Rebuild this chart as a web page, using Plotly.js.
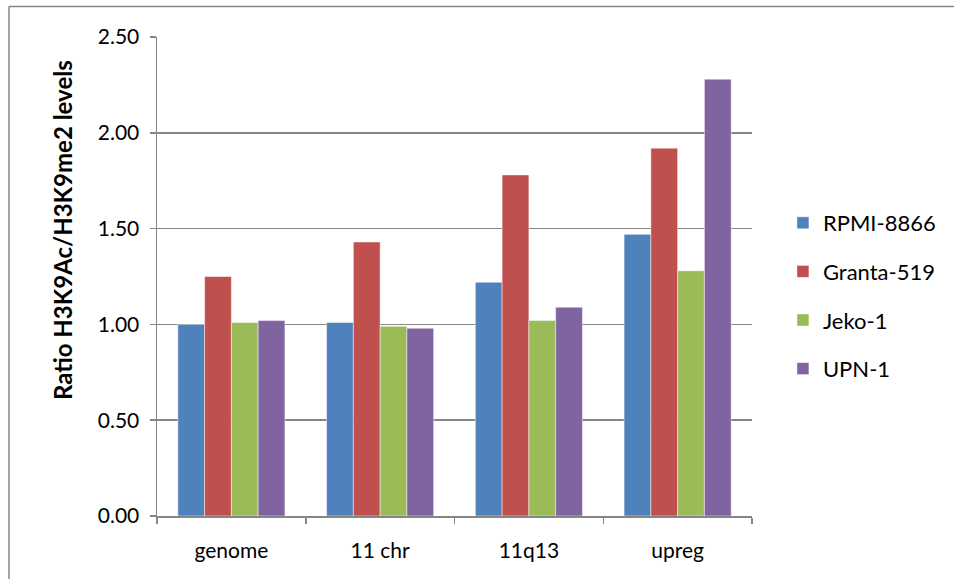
<!DOCTYPE html>
<html>
<head>
<meta charset="utf-8">
<script src="https://cdn.plot.ly/plotly-3.0.1.min.js"></script>
<style>html,body{margin:0;padding:0;background:#fff;}#chart{width:954px;height:579px;}</style>
</head>
<body>
<div id="chart"></div>
<script>
const categories = ["genome", "11 chr", "11q13", "upreg"];
const seriesNames = ["RPMI-8866", "Granta-519", "Jeko-1", "UPN-1"];
const rpmi = [1.00, 1.01, 1.22, 1.47];
const granta = [1.25, 1.43, 1.78, 1.92];
const jeko = [1.01, 0.99, 1.02, 1.28];
const upn = [1.02, 0.98, 1.09, 2.28];
const yTicks = [0, 0.5, 1.0, 1.5, 2.0, 2.5];
const yTickLabels = ["0.00", "0.50", "1.00", "1.50", "2.00", "2.50"];
const colors = ["#4F81BD", "#C0504D", "#9BBB59", "#8064A2"];

const values = [rpmi, granta, jeko, upn];
const font = "Lato, 'Open Sans', 'Liberation Sans', sans-serif";

const traces = values.map((v, i) => ({
  type: "bar",
  name: seriesNames[i],
  x: categories,
  y: v,
  legendgroup: "g" + i,
  marker: {color: colors[i], line: {color: "rgba(255,255,255,0.6)", width: 0.8}},
  hoverinfo: "x+y+name"
}));

const layout = {
  width: 954, height: 579,
  margin: {l: 157, r: 202, t: 37, b: 63},
  paper_bgcolor: "#ffffff",
  plot_bgcolor: "#ffffff",
  barmode: "group",
  bargap: 0.28,
  bargroupgap: 0,
  font: {family: font, color: "#000000", size: 21},
  xaxis: {
    type: "category",
    showline: true, linecolor: "#868686", linewidth: 1.5,
    ticks: "outside", ticklen: 6, tickcolor: "#868686", tickwidth: 1.5,
    tickson: "boundaries",
    showgrid: false,
    tickfont: {size: 21, family: font},
    ticklabelstandoff: 15,
    automargin: false
  },
  yaxis: {
    range: [0, 2.5],
    tickvals: yTicks,
    ticktext: yTickLabels,
    showline: true, linecolor: "#868686", linewidth: 1.5,
    ticks: "outside", ticklen: 6, tickcolor: "#868686", tickwidth: 1.5,
    showgrid: true, gridcolor: "#868686", gridwidth: 1.5,
    zeroline: false,
    tickfont: {size: 21, family: font},
    ticklabelstandoff: 6,
    automargin: false
  },
  annotations: [{
    text: "<b>Ratio H3K9Ac/H3K9me2 levels</b>",
    textangle: -90,
    xref: "paper", yref: "paper",
    x: (62 - 157) / 595, y: (516 - 230) / 479,
    xanchor: "center", yanchor: "middle",
    showarrow: false,
    font: {size: 24, family: font, color: "#000000"}
  }],
  legend: {
    x: 1.052, xanchor: "left",
    y: (516 - 296) / 479, yanchor: "middle",
    font: {size: 22, family: font},
    tracegroupgap: 17,
    itemwidth: 30,
    bgcolor: "rgba(0,0,0,0)"
  },
  shapes: [
    {type: "line", xref: "paper", yref: "paper", x0: (9-157)/595, x1: (960-157)/595, y0: (516-6.5)/479, y1: (516-6.5)/479, line: {color: "#868686", width: 1.5}},
    {type: "line", xref: "paper", yref: "paper", x0: (9-157)/595, x1: (9-157)/595, y0: (516-6.5)/479, y1: (516-590)/479, line: {color: "#868686", width: 1.5}}
  ],
  showlegend: true
};

Plotly.newPlot("chart", traces, layout, {displayModeBar: false, staticPlot: true});
</script>
</body>
</html>
